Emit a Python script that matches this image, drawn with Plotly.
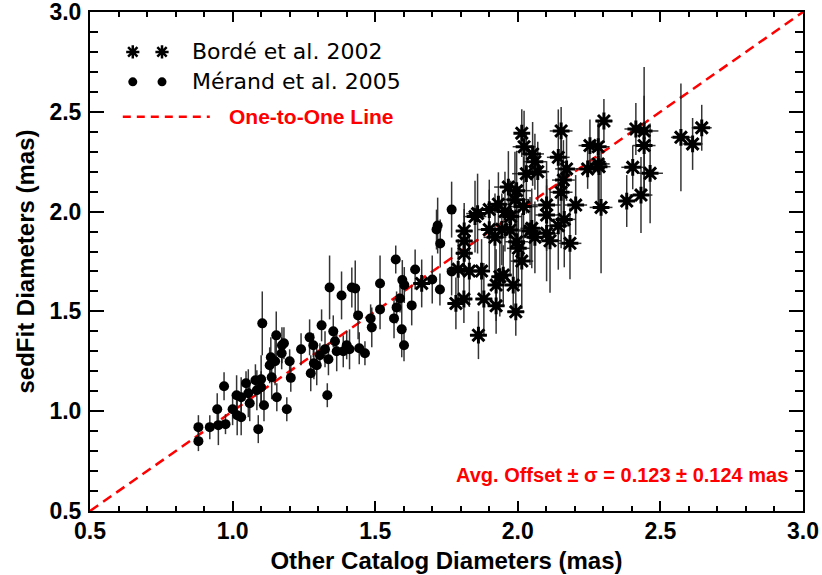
import plotly.graph_objects as go

# ---------------- data ----------------
merand_x = [0.88, 0.88, 0.92, 0.946, 0.95, 0.97, 0.975, 1.00, 1.014, 1.016,
            1.03, 1.03, 1.047, 1.055, 1.06, 1.08, 1.085, 1.09, 1.10, 1.104,
            1.10, 1.11, 1.13, 1.134, 1.137, 1.149, 1.153, 1.155, 1.172, 1.173,
            1.18, 1.19, 1.20, 1.204, 1.24, 1.27, 1.274, 1.283, 1.285, 1.295,
            1.306, 1.312, 1.324, 1.332, 1.336, 1.34, 1.353, 1.359, 1.365, 1.382,
            1.388, 1.40, 1.41, 1.418, 1.43, 1.44, 1.444, 1.464, 1.484, 1.488,
            1.517, 1.517, 1.566, 1.575, 1.593, 1.601, 1.628, 1.572, 1.595, 1.602,
            1.64, 1.768, 1.719, 1.715, 1.728, 1.70, 1.768, 1.727, 1.587]
merand_y = [0.85, 0.92, 0.92, 1.01, 0.93, 1.125, 0.935, 1.01, 1.08, 0.98,
            0.97, 1.07, 1.14, 1.09, 1.04, 1.155, 1.105, 0.91, 1.16, 1.44,
            1.12, 1.03, 1.23, 1.27, 1.17, 1.25, 1.38, 1.07, 1.29, 1.33,
            1.34, 1.01, 1.25, 1.167, 1.31, 1.37, 1.19, 1.33, 1.24, 1.23,
            1.28, 1.43, 1.31, 1.08, 1.26, 1.62, 1.40, 1.35, 1.30, 1.58,
            1.30, 1.33, 1.31, 1.62, 1.615, 1.48, 1.315, 1.29, 1.465, 1.42,
            1.64, 1.51, 1.465, 1.52, 1.41, 1.33, 1.53, 1.76, 1.657, 1.632,
            1.71, 2.01, 1.93, 1.91, 1.84, 1.66, 1.70, 1.61, 1.565]
merand_yerr = [0.05, 0.06, 0.06, 0.08, 0.10, 0.07, 0.05, 0.08, 0.10, 0.10,
               0.09, 0.10, 0.06, 0.12, 0.09, 0.08, 0.10, 0.07, 0.12, 0.16,
               0.08, 0.08, 0.09, 0.10, 0.11, 0.12, 0.12, 0.07, 0.08, 0.09,
               0.08, 0.06, 0.06, 0.07, 0.08, 0.09, 0.09, 0.06, 0.08, 0.10,
               0.06, 0.08, 0.09, 0.06, 0.08, 0.16, 0.08, 0.07, 0.10, 0.12,
               0.08, 0.07, 0.10, 0.10, 0.14, 0.12, 0.08, 0.06, 0.07, 0.10,
               0.14, 0.10, 0.10, 0.08, 0.14, 0.08, 0.10, 0.07, 0.10, 0.09,
               0.10, 0.14, 0.14, 0.10, 0.12, 0.12, 0.12, 0.08, 0.07]
merand_xerr = 0.015

borde_x = [1.663, 1.783, 1.811, 1.791, 1.812, 1.812, 1.812, 1.830, 1.873, 1.850,
           1.859, 1.862, 1.881, 1.900, 1.900, 1.920, 1.924, 1.924, 1.932, 1.937,
           1.944, 1.949, 1.955, 1.967, 1.973, 1.984, 1.993, 1.990, 1.996, 1.996,
           2.002, 2.014, 2.014, 2.020, 2.022, 2.030, 2.043, 2.049, 2.052, 2.060,
           2.060, 2.070, 2.101, 2.101, 2.101, 2.113, 2.142, 2.142, 2.152, 2.152,
           2.160, 2.163, 2.171, 2.183, 2.203, 2.245, 2.253, 2.282, 2.282, 2.285,
           2.292, 2.302, 2.382, 2.403, 2.414, 2.432, 2.443, 2.443, 2.464, 2.572,
           2.613, 2.645, 1.975]
borde_y = [1.640, 1.540, 1.562, 1.711, 1.903, 1.853, 1.791, 1.702, 1.702, 1.975,
           1.990, 1.381, 1.562, 2.010, 1.910, 1.871, 1.632, 1.528, 2.037, 1.674,
           1.911, 1.682, 2.000, 2.123, 1.908, 1.632, 1.498, 2.060, 2.105, 1.849,
           1.816, 1.752, 2.393, 2.025, 2.325, 2.190, 1.903, 1.916, 2.289, 2.250,
           1.871, 2.200, 2.033, 1.983, 1.891, 1.854, 2.272, 1.929, 2.404, 2.097,
           2.158, 1.961, 2.214, 1.841, 2.033, 2.214, 2.331, 2.325, 2.239, 2.225,
           2.021, 2.454, 2.053, 2.222, 2.414, 2.083, 2.404, 2.331, 2.192, 2.372,
           2.339, 2.420, 1.975]
borde_yerr = [0.12, 0.13, 0.12, 0.15, 0.14, 0.16, 0.12, 0.18, 0.16, 0.18,
              0.20, 0.12, 0.18, 0.15, 0.20, 0.22, 0.18, 0.14, 0.16, 0.20,
              0.18, 0.15, 0.20, 0.18, 0.22, 0.15, 0.12, 0.24, 0.20, 0.22,
              0.20, 0.24, 0.12, 0.25, 0.18, 0.20, 0.17, 0.20, 0.16, 0.14,
              0.18, 0.15, 0.22, 0.18, 0.24, 0.26, 0.24, 0.22, 0.12, 0.28,
              0.20, 0.24, 0.16, 0.18, 0.15, 0.10, 0.13, 0.13, 0.20, 0.22,
              0.33, 0.11, 0.13, 0.11, 0.13, 0.19, 0.32, 0.25, 0.25, 0.27,
              0.13, 0.115, 0.18]
borde_xerr = [0.03, 0.03, 0.03, 0.04, 0.03, 0.03, 0.03, 0.03, 0.03, 0.04,
              0.04, 0.03, 0.03, 0.04, 0.04, 0.04, 0.03, 0.03, 0.04, 0.03,
              0.04, 0.03, 0.04, 0.05, 0.04, 0.03, 0.03, 0.05, 0.05, 0.04,
              0.04, 0.04, 0.025, 0.05, 0.04, 0.05, 0.04, 0.04, 0.04, 0.04,
              0.04, 0.04, 0.05, 0.04, 0.04, 0.04, 0.04, 0.04, 0.04, 0.04,
              0.04, 0.04, 0.04, 0.04, 0.04, 0.04, 0.04, 0.04, 0.04, 0.04,
              0.04, 0.03, 0.03, 0.04, 0.04, 0.04, 0.05, 0.04, 0.045, 0.035,
              0.035, 0.035, 0.04]

line_x = [0.5, 3.0]
line_y = [0.5, 3.0]
tick_vals = [0.5, 1.0, 1.5, 2.0, 2.5, 3.0]
tick_text = ["0.5", "1.0", "1.5", "2.0", "2.5", "3.0"]

legend_labels = ["Bordé et al. 2002", "Mérand et al. 2005", "One-to-One Line"]
stats_text = "Avg. Offset ± σ = 0.123 ± 0.124 mas"

FONT = "Liberation Sans"
LEG_FONT = "DejaVu Sans"
ERR_COLOR = "rgba(30,30,30,0.9)"

fig = go.Figure()

fig.add_trace(go.Scatter(
    x=line_x, y=line_y, mode="lines",
    line=dict(color="#ff0000", width=2.5, dash="10px,6px"),
    showlegend=False, hoverinfo="skip"))

fig.add_trace(go.Scatter(
    x=merand_x, y=merand_y, mode="markers",
    marker=dict(symbol="circle", size=10, color="black"),
    error_y=dict(type="data", array=merand_yerr, color=ERR_COLOR, thickness=1.5, width=0),
    error_x=dict(type="constant", value=merand_xerr, color=ERR_COLOR, thickness=1.5, width=0),
    showlegend=False))

fig.add_trace(go.Scatter(
    x=borde_x, y=borde_y, mode="markers",
    marker=dict(symbol="asterisk-open", size=14, color="black",
                line=dict(color="black", width=3)),
    error_y=dict(type="data", array=borde_yerr, color=ERR_COLOR, thickness=1.5, width=0),
    error_x=dict(type="data", array=borde_xerr, color=ERR_COLOR, thickness=1.5, width=0),
    showlegend=False))

# legend drawn on an overlay axis (fractions of the plot area)
fig.add_trace(go.Scatter(
    x=[0.060, 0.101], y=[0.920, 0.920], mode="markers", xaxis="x2", yaxis="y2",
    marker=dict(symbol="asterisk-open", size=11, color="black",
                line=dict(color="black", width=2.5)),
    showlegend=False, hoverinfo="skip"))
fig.add_trace(go.Scatter(
    x=[0.060, 0.101], y=[0.860, 0.860], mode="markers", xaxis="x2", yaxis="y2",
    marker=dict(symbol="circle", size=9, color="black"),
    showlegend=False, hoverinfo="skip"))
fig.add_trace(go.Scatter(
    x=[0.046, 0.168], y=[0.790, 0.790], mode="lines", xaxis="x2", yaxis="y2",
    line=dict(color="#ff0000", width=2.5, dash="8px,6px"),
    showlegend=False, hoverinfo="skip"))

annotations = [
    dict(x=0.140, y=0.920, xref="x2", yref="y2", text=legend_labels[0], showarrow=False,
         xanchor="left", yanchor="middle", font=dict(family=LEG_FONT, size=22, color="black")),
    dict(x=0.140, y=0.860, xref="x2", yref="y2", text=legend_labels[1], showarrow=False,
         xanchor="left", yanchor="middle", font=dict(family=LEG_FONT, size=22, color="black")),
    dict(x=0.192, y=0.790, xref="x2", yref="y2", text="<b>" + legend_labels[2] + "</b>",
         showarrow=False, xanchor="left", yanchor="middle",
         font=dict(family=FONT, size=21, color="#ff0000")),
    dict(x=0.982, y=0.072, xref="x2", yref="y2", text="<b>" + stats_text + "</b>",
         showarrow=False, xanchor="right", yanchor="middle",
         font=dict(family=FONT, size=20, color="#ff0000")),
]

axis_common = dict(
    showgrid=False, zeroline=False, showline=True, linecolor="black", linewidth=2,
    mirror="ticks", ticks="inside", tickwidth=2, tickcolor="black",
    tickmode="array", tickvals=tick_vals, ticktext=tick_text, automargin=False,
    tickfont=dict(family=FONT, size=23, color="black", weight="bold"),
    ticklabeloverflow="allow",
    range=[0.4999, 3.0001],
)

fig.update_layout(
    width=822, height=575,
    margin=dict(l=90, r=19, t=12, b=64),
    plot_bgcolor="white", paper_bgcolor="white",
    xaxis=dict(ticklen=10,
               minor=dict(dtick=0.1, tick0=0.5, ticks="inside", ticklen=5, tickwidth=2, tickcolor="black"),
               title=dict(text="Other Catalog Diameters (mas)", standoff=10,
                          font=dict(family=FONT, size=24, color="black", weight="bold")),
               ticklabelstandoff=-2,
               **axis_common),
    yaxis=dict(ticklen=14,
               minor=dict(dtick=0.1, tick0=0.5, ticks="inside", ticklen=8, tickwidth=2, tickcolor="black"),
               title=dict(text="sedFit Diameters (mas)", standoff=8,
                          font=dict(family=FONT, size=24, color="black", weight="bold")),
               ticklabelstandoff=2,
               **axis_common),
    xaxis2=dict(overlaying="x", range=[0, 1], visible=False, anchor="y2"),
    yaxis2=dict(overlaying="y", range=[0, 1], visible=False, anchor="x2"),
    annotations=annotations,
    showlegend=False,
)

fig.write_html("out.html")
